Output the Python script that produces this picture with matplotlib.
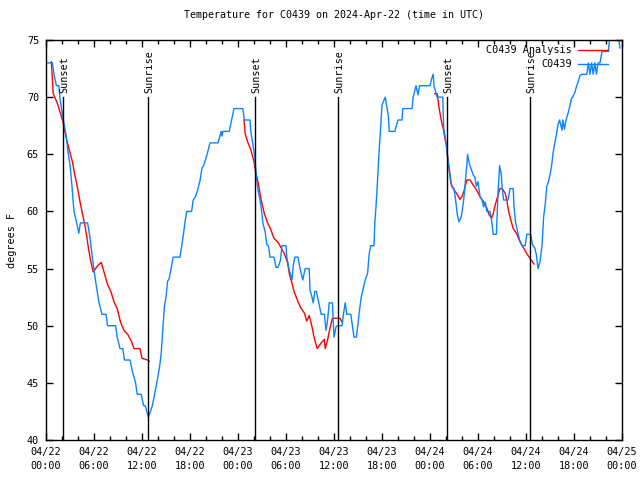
import datetime as dt

import matplotlib
matplotlib.use("Agg")
import matplotlib.dates as mdates
import matplotlib.pyplot as plt
import numpy as np

# hours after 2024-04-22 00:00 UTC, temperature in degrees F
obs_hours = [
    0.0, 0.8, 1.0, 1.3, 1.6, 1.8, 2.2, 2.5, 2.75, 3.0, 3.2, 3.4, 3.5, 3.8, 4.1, 4.3, 5.2,
    5.5, 5.8, 6.2, 6.6, 7.0, 7.5, 7.7, 8.7, 8.9, 9.25, 9.6, 9.8, 10.5, 10.8, 11.2, 11.4,
    11.9, 12.2, 12.4, 12.8, 13.1, 13.3, 13.6, 13.9, 14.2, 14.4, 14.6, 14.8, 15.0, 15.2,
    15.4, 15.6, 15.9, 16.75, 17.0, 17.2, 17.4, 17.6, 18.2, 18.4, 18.7, 19.0, 19.25, 19.5,
    19.7, 20.1, 20.5, 21.5, 21.9, 22.0, 22.1, 22.9, 23.2, 23.5, 24.6, 24.8, 25.5, 25.6,
    25.9, 26.1, 26.3, 26.5, 26.75, 27.0, 27.1, 27.4, 27.6, 27.8, 28.0, 28.5, 28.75, 29.0,
    29.3, 29.5, 30.0, 30.1, 30.4, 30.75, 30.9, 31.1, 31.5, 31.75, 32.1, 32.3, 32.4, 32.9,
    33.0, 33.25, 33.4, 33.6, 33.8, 34.1, 34.4, 34.8, 35.0, 35.2, 35.4, 35.8, 36.0, 36.25,
    36.4, 37.0, 37.2, 37.4, 37.6, 38.1, 38.3, 38.5, 38.8, 39.2, 39.4, 39.6, 39.9, 40.2,
    40.4, 40.6, 41.0, 41.1, 41.25, 41.4, 41.6, 41.8, 42.0, 42.4, 42.6, 42.8, 42.9, 43.6,
    43.8, 44.0, 44.5, 44.6, 45.75, 45.9, 46.25, 46.5, 46.7, 48.0, 48.2, 48.4, 48.5, 48.9,
    49.6, 49.7, 49.9, 50.1, 50.3, 50.5, 50.7, 51.0, 51.2, 51.4, 51.6, 51.9, 52.1, 52.3,
    52.5, 52.6, 52.7, 52.9, 53.2, 53.4, 53.6, 53.8, 54.0, 54.25, 54.5, 54.7, 54.9, 55.1,
    55.5, 55.7, 55.9, 56.3, 56.5, 56.7, 56.9, 57.0, 57.2, 57.75, 58.0, 58.4, 58.5, 58.7,
    59.0, 59.2, 59.5, 59.9, 60.1, 60.6, 60.8, 61.1, 61.3, 61.5, 61.75, 62.0, 62.2, 62.4,
    62.6, 62.8, 63.0, 63.2, 63.4, 63.6, 63.8, 64.0, 64.2, 64.5, 64.6, 64.8, 65.0, 65.3,
    65.5, 65.7, 65.9, 66.1, 66.3, 66.5, 66.75, 67.0, 67.6, 67.8, 68.0, 68.2, 68.4, 68.6,
    68.8, 69.0, 69.25, 69.5, 70.3, 70.5, 71.5, 71.75,
]
obs_temps = [
    73, 73, 72, 71, 71, 69.6, 67.9, 66.7, 65.2, 64.1, 62.6, 60.9, 60, 59.1, 58.1, 59, 59,
    57.7, 55.9, 53.9, 52.1, 51, 51, 50, 50, 49, 48, 48, 47, 47, 46, 45, 44,
    44, 43, 43, 42, 42.6, 43, 44.1, 45.2, 46.4, 47.6, 49.6, 51.7, 52.5, 53.9,
    54.1, 54.9, 56, 56, 57.2, 58.1, 59.2, 60, 60, 61, 61.3, 62, 62.7, 63.8,
    64, 64.9, 66, 66, 67, 66.6, 67, 67, 68, 69, 69, 68, 68, 67,
    65.7, 64.8, 63, 61.9, 61, 59.8, 59, 58.2, 57.1, 57, 56, 56, 55.1, 55.1,
    55.7, 57, 57, 56, 54.9, 54, 55.2, 56, 56, 55, 54, 54.7, 55, 55,
    53.1, 52.5, 52, 53, 53, 52, 51, 51, 49.6, 50.5, 52, 52, 49, 49.9,
    50, 50, 51.1, 52, 51, 51, 50, 49, 49, 51.4, 52.5, 53.1, 54, 54.6,
    56.3, 57, 57, 59, 60.4, 62.2, 64.8, 67.1, 69.3, 70, 69.2, 68.3, 67, 67,
    67.5, 68, 68, 69, 69, 70, 71, 70.2, 71, 71, 71.6, 72, 71, 70,
    70, 67.4, 66.5, 65.4, 64.2, 63.3, 62.2, 62, 61, 59.8, 59.1, 59.5, 60.4, 61.6,
    63.3, 64, 65, 64.2, 63.6, 63.2, 63, 62.2, 62.6, 61.3, 61, 60.4, 60.8, 60,
    60, 59.2, 58, 58, 61.6, 64, 63.3, 62.2, 61, 61, 62, 62, 60.4, 59,
    58.1, 57.5, 57, 57, 58, 58, 57.1, 56.8, 56.2, 55, 55.6, 57, 59.5, 60.6,
    62.2, 62.6, 63.2, 64, 65.2, 66, 66.7, 67.6, 68, 67.1, 68, 67.2, 68, 68.7,
    69.3, 69.9, 70.1, 70.4, 70.9, 71.3, 71.9, 72, 72, 73, 72, 73, 72, 73,
    72, 73, 73, 74, 74, 75.5, 75.5, 74.3,
]

nan = float("nan")
analysis_hours = [
    0.67, 0.9, 1.4, 1.8, 2.1, 2.5, 2.9, 3.3, 3.6, 3.9, 4.25, 4.5, 4.8, 5.1, 5.3, 5.6, 5.9,
    6.4, 6.9, 7.25, 7.7, 8.1, 8.5, 8.9, 9.3, 9.75, 10.25, 10.7, 11.0, 11.75, 12.0, 12.7, 12.9,
    nan,
    24.75, 24.9, 25.2, 25.6, 26.0, 26.25, 26.5, 26.9, 27.3, 27.7, 28.1, 28.5, 29.0, 29.4,
    29.8, 30.2, 30.4, 30.75, 31.0, 31.5, 31.9, 32.3, 32.6, 32.9, 33.25, 33.5, 33.9, 34.4,
    34.8, 34.9, 35.2, 35.5, 35.8, 36.75, 37.0,
    nan,
    48.6, 48.9, 49.1, 49.4, 49.7, 49.9, 50.1, 50.2, 50.4, 50.6, 50.9, 51.3, 51.75, 52.0,
    52.3, 52.6, 53.0, 53.4, 53.8, 54.25, 54.7, 55.1, 55.4, 55.7, 55.9, 56.2, 56.5, 56.75,
    57.0, 57.4, 57.6, 57.8, 58.1, 58.4, 58.8, 59.25, 59.7, 60.1, 60.5, 60.8, 61.0,
]
analysis_temps = [
    73.1, 70.3, 69.5, 68.6, 67.9, 66.5, 65.4, 64.35, 63.2, 62.2, 60.85, 60, 59, 57.8, 56.8, 55.6, 54.7,
    55.2, 55.55, 54.7, 53.6, 53, 52.1, 51.5, 50.35, 49.6, 49.2, 48.6, 48, 48, 47.15, 47, 46.9,
    nan,
    68, 66.8, 66.1, 65.4, 64.35, 63.3, 62.6, 61, 59.8, 59, 58.4, 57.65, 57.3, 56.8,
    56.3, 55.5, 54.6, 53.7, 53, 52.1, 51.5, 51.1, 50.4, 50.9, 49.9, 49, 48, 48.5,
    48.8, 48, 48.75, 49.8, 50.65, 50.65, 50.35,
    nan,
    70.3, 70.3, 69.2, 68, 67.1, 66.25, 65.7, 64.8, 63.6, 62.5, 62, 61.6, 61.06, 61.3,
    61.9, 62.75, 62.75, 62.3, 61.9, 61.3, 60.85, 60.3, 59.7, 59.4, 59.8, 60.7, 61.4, 62,
    62, 61.6, 61, 60.1, 59.25, 58.5, 58.1, 57.35, 56.8, 56.3, 55.9, 55.6, 55.4,
]

sunset_hours = [2.1, 26.1, 50.1]
sunrise_hours = [12.75, 36.5, 60.5]

start = dt.datetime(2024, 4, 22)


def to_num(hours):
    return np.array([mdates.date2num(start + dt.timedelta(hours=h)) if not np.isnan(h) else np.nan
                     for h in hours])


plt.rcParams["font.family"] = ["DejaVu Sans Mono"]
plt.rcParams["font.size"] = 7.3
plt.rcParams["axes.titlesize"] = 7.2

fig = plt.figure(figsize=(6.4, 4.8), dpi=100)
ax = fig.add_axes([46 / 640, 40 / 480, 576 / 640, 400 / 480])

ax.plot(to_num(analysis_hours), analysis_temps, color="#ff0000", lw=1.0, label="C0439 Analysis")
ax.plot(to_num(obs_hours), obs_temps, color="#0a84ff", lw=1.0, label="C0439")

for hours, name in [(sunset_hours, "Sunset"), (sunrise_hours, "Sunrise")]:
    for x in to_num(hours):
        ax.plot([x, x], [40, 70], color="black", lw=1.0)
        ax.text(x + 0.2 / 24, 70.4, name, rotation=90, ha="center", va="bottom")

ax.set_xlim(mdates.date2num(start), mdates.date2num(start + dt.timedelta(hours=72)))
ax.set_ylim(40, 75)
ax.xaxis.set_major_locator(mdates.HourLocator(byhour=range(0, 24, 6)))
ax.xaxis.set_minor_locator(mdates.HourLocator(byhour=range(0, 24, 2)))
ax.xaxis.set_major_formatter(mdates.DateFormatter("%m/%d\n%H:%M"))
for lbl in ax.get_xticklabels():
    lbl.set_linespacing(1.5)
ax.set_yticks(range(40, 76, 5))
ax.tick_params(which="both", direction="in", top=True, right=True, width=1.0)
ax.tick_params(which="major", length=5, pad=5)
ax.tick_params(which="minor", length=3)
for s in ax.spines.values():
    s.set_linewidth(1.0)

ax.set_ylabel("degrees F", labelpad=7)
ax.set_title("Temperature for C0439 on 2024-Apr-22 (time in UTC)", pad=16)
ax.legend(loc="upper right", frameon=False, markerfirst=False, handlelength=3.0,
          borderaxespad=0.1, borderpad=0.4, labelspacing=0.4, handletextpad=0.6,
          bbox_to_anchor=(0.985, 1.0))

fig.savefig("out.png", dpi=100)
